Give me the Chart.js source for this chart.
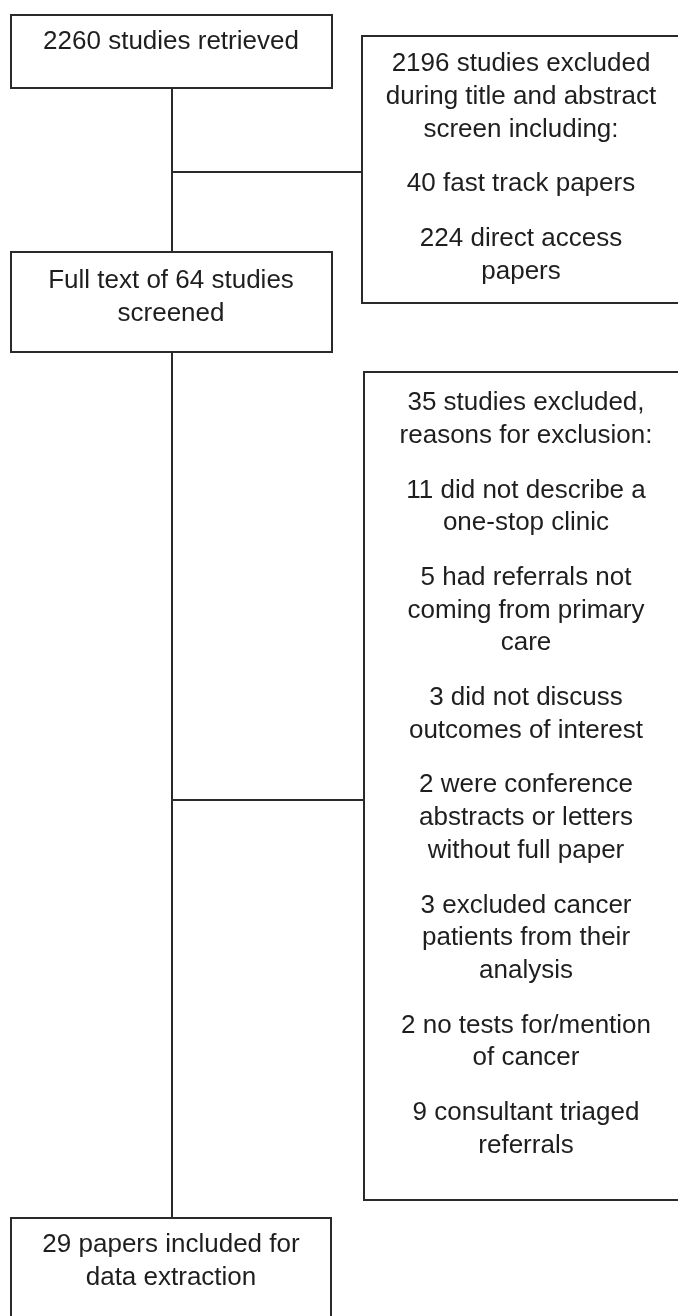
<!DOCTYPE html>
<html>
<head>
<meta charset="utf-8">
<script src="https://cdn.jsdelivr.net/npm/chart.js@4"></script>
<style>
  body { margin: 0; background: #fff; }
  canvas { display: block; }
</style>
</head>
<body>
<canvas id="flowChart" width="678" height="1316"></canvas>
<script>
// counts
var stageCounts = [2260, 2196, 64, 35, 29];
var screenCounts = [40, 224];
var screenReasons = ["fast track papers", "direct access\npapers"];
var exclusionCounts = [11, 5, 3, 2, 3, 2, 9];
var exclusionReasons = [
  "did not describe a\none-stop clinic",
  "had referrals not\ncoming from primary\ncare",
  "did not discuss\noutcomes of interest",
  "were conference\nabstracts or letters\nwithout full paper",
  "excluded cancer\npatients from their\nanalysis",
  "no tests for/mention\nof cancer",
  "consultant triaged\nreferrals"
];

// paragraphs per box (each paragraph = lines joined by \n)
var retrievedText = [stageCounts[0] + " studies retrieved"];
var screenText = [stageCounts[1] + " studies excluded\nduring title and abstract\nscreen including:"]
  .concat(screenCounts.map(function (c, i) { return c + " " + screenReasons[i]; }));
var fullText = ["Full text of " + stageCounts[2] + " studies\nscreened"];
var exclText = [stageCounts[3] + " studies excluded,\nreasons for exclusion:"]
  .concat(exclusionCounts.map(function (c, i) { return c + " " + exclusionReasons[i]; }));
var includedText = [stageCounts[4] + " papers included for\ndata extraction"];

// layout in diagram units (same as pixels of the reference)
var boxes = [
  { x0: 11, y0: 15, x1: 332, y1: 88, cx: 171, firstY: 42, lh: 32.7, gap: 22, text: retrievedText },
  { x0: 362, y0: 36, x1: 690, y1: 303, cx: 521, firstY: 64, lh: 32.7, gap: 22, text: screenText },
  { x0: 11, y0: 252, x1: 332, y1: 352, cx: 171, firstY: 281, lh: 32.7, gap: 22, text: fullText },
  { x0: 364, y0: 372, x1: 690, y1: 1200, cx: 526, firstY: 403, lh: 32.7, gap: 22, text: exclText },
  { x0: 11, y0: 1218, x1: 331, y1: 1330, cx: 171, firstY: 1245, lh: 32.7, gap: 22, text: includedText }
];
var connectors = [
  [[172, 88], [172, 252]],
  [[172, 172], [362, 172]],
  [[172, 352], [172, 1218]],
  [[172, 800], [364, 800]]
];

var flowPlugin = {
  id: "flow",
  afterDraw: function (chart) {
    var c = chart.ctx;
    var xs = chart.scales.x, ys = chart.scales.y;
    function px(v) { return xs.getPixelForValue(v); }
    function py(v) { return ys.getPixelForValue(v); }

    c.save();
    c.strokeStyle = "#2a2a2a";
    c.lineWidth = 2;

    connectors.forEach(function (seg) {
      c.beginPath();
      c.moveTo(px(seg[0][0]), py(seg[0][1]));
      c.lineTo(px(seg[1][0]), py(seg[1][1]));
      c.stroke();
    });

    c.fillStyle = "#1e1e1e";
    c.font = "26px 'Liberation Sans', Arial, sans-serif";
    c.textAlign = "center";
    c.textBaseline = "middle";

    boxes.forEach(function (b) {
      c.strokeRect(px(b.x0), py(b.y0), px(b.x1) - px(b.x0), py(b.y1) - py(b.y0));
      var y = b.firstY;
      b.text.forEach(function (para, pi) {
        if (pi > 0) y += b.gap;
        para.split("\n").forEach(function (line, li) {
          if (li > 0 || pi > 0) y += (li > 0 || pi > 0) ? b.lh : 0;
          c.fillText(line, px(b.cx), py(y));
        });
      });
    });
    c.restore();
  }
};

var ctx = document.getElementById("flowChart").getContext("2d");
var myChart = new Chart(ctx, {
  type: "scatter",
  data: { datasets: [{ data: [] }] },
  options: {
    responsive: false,
    animation: false,
    layout: { padding: 0 },
    plugins: { legend: { display: false }, tooltip: { enabled: false } },
    scales: {
      x: { type: "linear", min: 0, max: 678, display: false },
      y: { type: "linear", min: 0, max: 1316, reverse: true, display: false }
    }
  },
  plugins: [flowPlugin]
});
</script>
</body>
</html>
